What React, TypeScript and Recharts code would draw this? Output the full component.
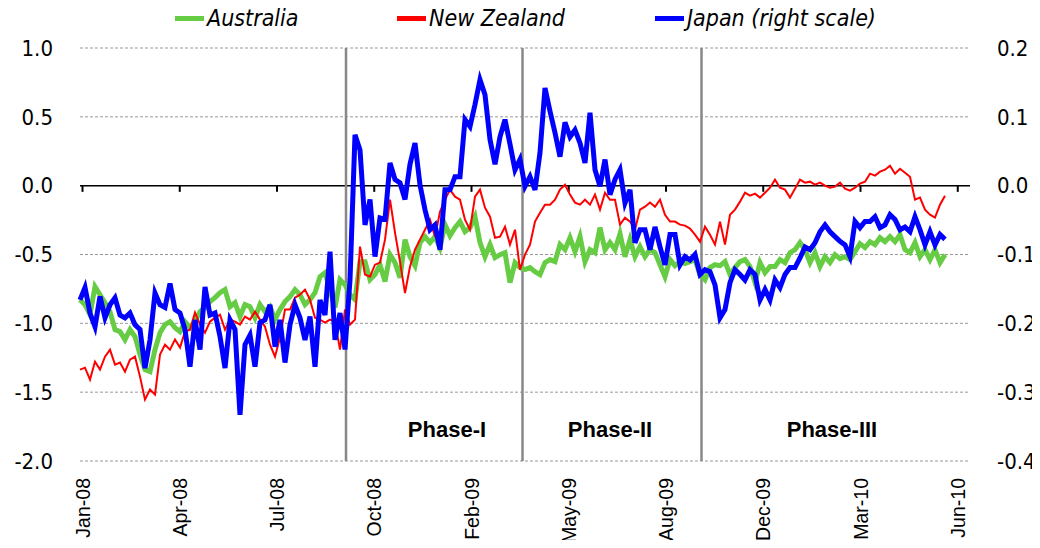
import {
  CartesianGrid,
  Legend,
  Line,
  LineChart,
  ReferenceDot,
  ReferenceLine,
  XAxis,
  YAxis,
} from 'recharts'

// one reading every ~week, Jan-08 .. May-10
const AUSTRALIA = [
  -0.828, -0.864, -0.937, -0.733, -0.792, -0.85, -0.915, -1.046, -1.06, -1.118,
  -1.046, -1.097, -1.227, -1.336, -1.351, -1.191, -1.068, -1.009, -0.988, -1.031,
  -1.06, -0.988, -1.031, -0.988, -0.915, -0.886, -0.842, -0.813, -0.777, -0.755,
  -0.879, -0.85, -0.951, -0.864, -0.879, -0.959, -0.864, -0.915, -0.879, -0.973,
  -0.9, -0.842, -0.806, -0.755, -0.792, -0.864, -0.828, -0.777, -0.661, -0.632,
  -0.755, -0.886, -0.683, -0.719, -0.792, -0.828, -0.552, -0.552, -0.683, -0.646,
  -0.574, -0.697, -0.501, -0.559, -0.668, -0.392, -0.516, -0.581, -0.414, -0.37,
  -0.414, -0.37, -0.45, -0.283, -0.363, -0.305, -0.261, -0.334, -0.305, -0.225,
  -0.414, -0.516, -0.428, -0.523, -0.501, -0.487, -0.704, -0.559, -0.595, -0.61,
  -0.595, -0.625, -0.646, -0.559, -0.537, -0.552, -0.428, -0.465, -0.378, -0.479,
  -0.37, -0.552, -0.465, -0.487, -0.305, -0.465, -0.414, -0.465, -0.349, -0.516,
  -0.392, -0.516, -0.443, -0.516, -0.465, -0.487, -0.574, -0.661, -0.537, -0.581,
  -0.552, -0.566, -0.552, -0.537, -0.646, -0.683, -0.595, -0.574, -0.581, -0.552,
  -0.646, -0.595, -0.552, -0.537, -0.588, -0.704, -0.559, -0.632, -0.588, -0.588,
  -0.537, -0.559, -0.487, -0.465, -0.414, -0.465, -0.559, -0.487, -0.588, -0.516,
  -0.559, -0.501, -0.53, -0.516, -0.537, -0.479, -0.421, -0.45, -0.407, -0.428,
  -0.378, -0.407, -0.37, -0.407, -0.356, -0.465, -0.487, -0.414, -0.516, -0.465,
  -0.537, -0.465, -0.559, -0.501,
]

const NEW_ZEALAND = [
  -1.336, -1.322, -1.409, -1.278, -1.336, -1.242, -1.191, -1.3, -1.285, -1.351,
  -1.264, -1.242, -1.387, -1.554, -1.481, -1.518, -1.227, -1.155, -1.191, -1.118,
  -1.176, -1.06, -1.046, -0.922, -1.009, -1.068, -0.988, -0.959, -0.937, -1.046,
  -0.973, -0.988, -1.009, -0.951, -0.973, -0.915, -0.973, -1.024, -1.155, -1.242,
  -1.104, -0.9, -0.9, -0.813, -0.792, -0.755, -0.828, -0.959, -0.973, -0.995,
  -0.973, -0.988, -1.191, -0.9, -1.009, -0.973, -0.443, -0.646, -0.661, -0.574,
  -0.559, -0.392, -0.102, -0.341, -0.552, -0.78, -0.588, -0.465, -0.392, -0.32,
  -0.247, -0.37, -0.189, -0.102, -0.029, -0.08, -0.102, -0.247, -0.32, -0.08,
  -0.029, -0.16, -0.225, -0.378, -0.37, -0.298, -0.428, -0.32, -0.61, -0.501,
  -0.428, -0.261, -0.196, -0.138, -0.138, -0.102, -0.029, 0.007, -0.065, -0.123,
  -0.138, -0.102, -0.138, -0.065, -0.174, -0.051, -0.102, -0.102, -0.283, -0.232,
  -0.261, -0.32, -0.174, -0.153, -0.123, -0.153, -0.102, -0.211, -0.261, -0.261,
  -0.283, -0.29, -0.312, -0.356, -0.407, -0.298, -0.356, -0.428, -0.261, -0.428,
  -0.211, -0.174, -0.116, -0.051, -0.073, -0.058, -0.087, -0.051, -0.015, 0.044,
  -0.015, -0.029, -0.087, -0.022, 0.044, 0.022, 0.029, 0.007, 0.022, 0.0,
  -0.015, -0.007, 0.022, -0.022, -0.036, -0.015, 0.015, 0.029, 0.087, 0.073,
  0.102, 0.116, 0.145, 0.087, 0.123, 0.094, 0.065, -0.102, -0.087, -0.174,
  -0.211, -0.232, -0.138, -0.073,
]

// right scale
const JAPAN = [
  -0.166, -0.148, -0.185, -0.205, -0.161, -0.192, -0.173, -0.163, -0.188, -0.192,
  -0.185, -0.202, -0.209, -0.265, -0.224, -0.156, -0.173, -0.177, -0.142, -0.18,
  -0.185, -0.209, -0.263, -0.195, -0.238, -0.147, -0.188, -0.185, -0.219, -0.265,
  -0.195, -0.209, -0.333, -0.231, -0.217, -0.263, -0.199, -0.195, -0.173, -0.234,
  -0.195, -0.257, -0.202, -0.173, -0.192, -0.224, -0.19, -0.263, -0.166, -0.188,
  -0.096, -0.224, -0.185, -0.238, -0.137, 0.074, 0.052, -0.057, -0.02, -0.103,
  -0.047, -0.049, 0.033, 0.009, 0.004, -0.02, 0.031, 0.062, 0.001, -0.035,
  -0.064, -0.057, -0.093, -0.006, -0.006, 0.013, 0.013, 0.096, 0.086, 0.118,
  0.154, 0.132, 0.067, 0.031, 0.071, 0.096, 0.06, 0.023, 0.038, -0.001,
  0.013, -0.006, 0.048, 0.142, 0.108, 0.077, 0.042, 0.092, 0.071, 0.081,
  0.062, 0.033, 0.106, 0.023, -0.001, 0.038, -0.013, 0.009, 0.023, -0.025,
  -0.006, -0.083, -0.064, -0.064, -0.093, -0.06, -0.089, -0.115, -0.071, -0.071,
  -0.115, -0.103, -0.108, -0.1, -0.129, -0.122, -0.125, -0.144, -0.192, -0.18,
  -0.141, -0.122, -0.129, -0.137, -0.122, -0.129, -0.166, -0.151, -0.166, -0.137,
  -0.148, -0.129, -0.119, -0.119, -0.105, -0.089, -0.093, -0.083, -0.067, -0.057,
  -0.067, -0.074, -0.081, -0.086, -0.103, -0.052, -0.061, -0.052, -0.052, -0.045,
  -0.061, -0.057, -0.042, -0.049, -0.064, -0.06, -0.067, -0.045, -0.064, -0.086,
  -0.067, -0.086, -0.071, -0.078,
]

const TICK_LABELS = [
  'Jan-08', 'Apr-08', 'Jul-08', 'Oct-08', 'Feb-09',
  'May-09', 'Aug-09', 'Dec-09', 'Mar-10', 'Jun-10',
]
const TICK_EVERY = 19.45 // weeks between category labels

const PHASE_STARTS = [53.2, 88.5, 124.3]
const PHASE_NAMES = ['Phase-I', 'Phase-II', 'Phase-III']
const PHASE_LABEL_AT = [73.4, 106, 150.4]

const LEFT_TICKS = [-2, -1.5, -1, -0.5, 0, 0.5, 1]
const RIGHT_TICKS = [-0.4, -0.3, -0.2, -0.1, 0, 0.1, 0.2]

const data = AUSTRALIA.map((aus, i) => ({
  i,
  aus,
  nz: NEW_ZEALAND[i],
  jp: JAPAN[i],
}))

const xTicks = TICK_LABELS.map((_, k) => 0.5 + k * TICK_EVERY)

const NARROW = "'DejaVu Sans Condensed', 'DejaVu Sans', sans-serif"
const ARIAL = "'Liberation Sans', Arial, sans-serif"

const GREEN = '#66cc44'
const RED = '#ff0000'
const BLUE = '#0000ff'

const axisFont = {
  fill: '#000',
  fontSize: 22,
  fontFamily: NARROW,
  fontStretch: 'condensed',
}

function DateTick({ x, y, index }: any) {
  return (
    <text
      x={x}
      y={y}
      transform={`rotate(-90, ${x}, ${y})`}
      textAnchor="end"
      dy="0.36em"
      fontSize={19.5}
      fontFamily={ARIAL}
      fill="#000"
    >
      {TICK_LABELS[index]}
    </text>
  )
}

function LegendRow() {
  const items = [
    { name: 'Australia', color: GREEN, left: 175 },
    { name: 'New Zealand', color: RED, left: 397 },
    { name: 'Japan (right scale)', color: BLUE, left: 655 },
  ]
  return (
    <div style={{ position: 'relative', width: 1040, height: 30 }}>
      {items.map((it) => (
        <div
          key={it.name}
          style={{
            position: 'absolute',
            left: it.left,
            top: -13,
            display: 'flex',
            alignItems: 'center',
            fontFamily: NARROW,
            fontStretch: 'condensed',
            fontStyle: 'italic',
            fontSize: 23,
            color: '#000',
            whiteSpace: 'nowrap',
          }}
        >
          <span style={{ display: 'inline-block', width: 29, height: 5, background: it.color, marginRight: 3 }} />
          {it.name}
        </div>
      ))}
    </div>
  )
}

export default function App() {
  return (
    <div style={{ margin: -8, background: '#fff' }}>
      <LineChart
        width={1040}
        height={548}
        data={data}
        margin={{ top: 18, right: 0, bottom: 0, left: 0 }}
      >
        <CartesianGrid
          yAxisId="left"
          vertical={false}
          stroke="#999"
          strokeDasharray="3 2"
        />
        <XAxis
          dataKey="i"
          type="number"
          domain={[0, 178]}
          ticks={xTicks}
          interval={0}
          height={87}
          axisLine={false}
          tickLine={false}
          tickSize={0}
          tickMargin={17}
          tick={<DateTick />}
        />
        <YAxis
          yAxisId="left"
          domain={[-2, 1]}
          ticks={LEFT_TICKS}
          width={80}
          axisLine={false}
          tickLine={false}
          tickSize={0}
          tickMargin={27}
          tickFormatter={(v: number) => v.toFixed(1)}
          tick={axisFont}
        />
        <YAxis
          yAxisId="right"
          orientation="right"
          domain={[-0.4, 0.2]}
          ticks={RIGHT_TICKS}
          width={70}
          axisLine={false}
          tickLine={false}
          tickSize={0}
          tickMargin={27}
          tickFormatter={(v: number) => v.toFixed(1)}
          tick={{ ...axisFont, textAnchor: 'start' }}
        />
        <Legend verticalAlign="top" content={<LegendRow />} />
        <ReferenceLine yAxisId="left" y={0} stroke="#000" strokeWidth={1.5} />
        {xTicks.map((t) => (
          <ReferenceLine
            key={t}
            yAxisId="left"
            segment={[
              { x: t, y: 0 },
              { x: t, y: -0.045 },
            ]}
            stroke="#000"
            strokeWidth={2}
          />
        ))}
        {PHASE_STARTS.map((p) => (
          <ReferenceLine key={p} yAxisId="left" x={p} stroke="#888" strokeWidth={2.5} />
        ))}
        {PHASE_NAMES.map((name, k) => (
          <ReferenceDot
            key={name}
            yAxisId="left"
            x={PHASE_LABEL_AT[k]}
            y={-1.772}
            r={0}
            fill="none"
            stroke="none"
            label={{
              value: name,
              position: 'center',
              fill: '#000',
              fontSize: 22,
              fontWeight: 'bold',
              fontFamily: ARIAL,
            }}
          />
        ))}
        <Line
          yAxisId="left"
          dataKey="aus"
          stroke={GREEN}
          strokeWidth={5}
          dot={false}
          type="linear"
          isAnimationActive={false}
        />
        <Line
          yAxisId="left"
          dataKey="nz"
          stroke={RED}
          strokeWidth={2}
          dot={false}
          type="linear"
          isAnimationActive={false}
        />
        <Line
          yAxisId="right"
          dataKey="jp"
          stroke={BLUE}
          strokeWidth={5}
          dot={false}
          type="linear"
          isAnimationActive={false}
        />
      </LineChart>
    </div>
  )
}
